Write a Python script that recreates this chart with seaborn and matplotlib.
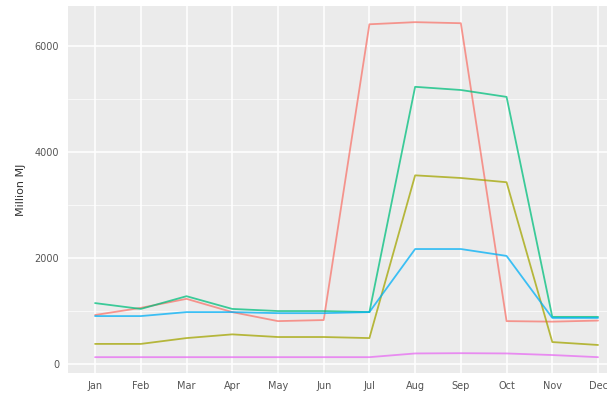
import numpy as np
import pandas as pd
import matplotlib
matplotlib.use("Agg")
import matplotlib.pyplot as plt
import seaborn as sns
from matplotlib.ticker import MultipleLocator

months = ["Jan", "Feb", "Mar", "Apr", "May", "Jun",
          "Jul", "Aug", "Sep", "Oct", "Nov", "Dec"]

# values (Million MJ)
red = [925, 1060, 1230, 980, 810, 830, 6410, 6450, 6430, 810, 800, 820]
olive = [380, 380, 490, 560, 510, 510, 490, 3560, 3510, 3430, 415, 360]
green = [1150, 1040, 1280, 1040, 1000, 1000, 980, 5230, 5170, 5040, 890, 890]
blue = [905, 905, 980, 980, 960, 960, 980, 2170, 2170, 2040, 870, 870]
purple = [130, 130, 130, 130, 130, 130, 130, 200, 205, 200, 170, 130]

series = {"Series 1": red, "Series 2": olive, "Series 3": green,
          "Series 4": blue, "Series 5": purple}
colors = ["#F8766D", "#A3A500", "#00BF7D", "#00B0F6", "#E76BF3"]

df = pd.DataFrame([
    {"month": m, "idx": i, "series": name, "value": v}
    for name, vals in series.items()
    for i, (m, v) in enumerate(zip(months, vals))
])

sns.set_theme(style="darkgrid", rc={
    "axes.facecolor": "#EBEBEB",
    "grid.color": "white",
    "axes.edgecolor": "#EBEBEB",
})
plt.rcParams["font.family"] = ["DejaVu Sans"]

fig = plt.figure(figsize=(6.07, 3.99), dpi=100)
ax = fig.add_axes([0.1114, 0.065, 0.919, 0.92])

sns.lineplot(data=df, x="idx", y="value", hue="series", palette=colors,
             linewidth=1.3, alpha=0.75, legend=False, ax=ax)

ax.set_xlim(-0.6, 11.6)
ax.set_ylim(-170, 6755)
ax.set_xticks(range(12))
ax.set_xticklabels(months)
ax.set_yticks([0, 2000, 4000, 6000])
ax.yaxis.set_minor_locator(MultipleLocator(1000))
ax.grid(which="major", color="white", linewidth=1.1)
ax.grid(which="minor", axis="y", color="white", linewidth=0.5)
for s in ax.spines.values():
    s.set_visible(False)
ax.tick_params(axis="both", which="major", length=3, width=0.6, color="#444444",
               labelsize=7, labelcolor="#555555", pad=3)
ax.tick_params(axis="both", which="minor", length=0)
ax.set_xlabel("")
ax.set_ylabel("Million MJ", fontsize=8, color="#333333", labelpad=6)

fig.savefig("out.png", dpi=100)
